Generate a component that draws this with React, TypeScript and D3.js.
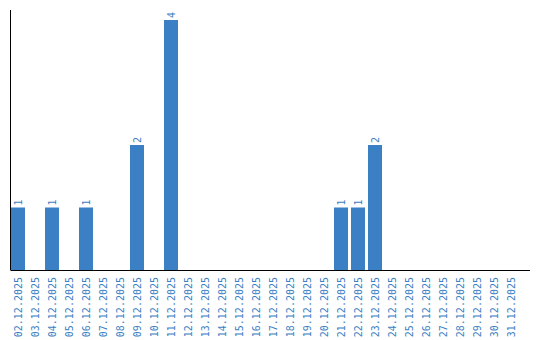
import React from "react";
import * as d3 from "d3";

const dates = [
  "02.12.2025","03.12.2025","04.12.2025","05.12.2025","06.12.2025","07.12.2025",
  "08.12.2025","09.12.2025","10.12.2025","11.12.2025","12.12.2025","13.12.2025",
  "14.12.2025","15.12.2025","16.12.2025","17.12.2025","18.12.2025","19.12.2025",
  "20.12.2025","21.12.2025","22.12.2025","23.12.2025","24.12.2025","25.12.2025",
  "26.12.2025","27.12.2025","28.12.2025","29.12.2025","30.12.2025","31.12.2025",
];
const counts = [1,0,1,0,1,0,0,2,0,4,0,0,0,0,0,0,0,0,0,1,1,2,0,0,0,0,0,0,0,0];

const W = 540, H = 340;
const left = 10.5, right = 530, top = 10, bottom = 270;
const color = "#3b7fc4";
const font = "'DejaVu Sans Mono', monospace";

export default function App() {
  const x = d3.scaleBand<string>().domain(dates).range([11, 11 + 17 * dates.length - 3]).paddingInner(3 / 17).paddingOuter(0).align(0);
  const maxV = d3.max(counts) ?? 1;
  const y = d3.scaleLinear().domain([0, maxV * 1.04]).range([bottom, top]);
  return (
    <svg width={W} height={H} style={{ position: "absolute", left: 0, top: 0 }}>
      <rect width={W} height={H} fill="#fff" />
      {dates.map((d, i) =>
        counts[i] > 0 ? (
          <g key={d}>
            <rect x={x(d)} y={y(counts[i])} width={x.bandwidth()} height={bottom - y(counts[i])} fill={color} />
            <text
              transform={`translate(${(x(d) ?? 0) + x.bandwidth() / 2 + 3.5},${y(counts[i]) - 2}) rotate(-90)`}
              fontFamily={font} fontSize={10} fill={color}
            >{counts[i]}</text>
          </g>
        ) : null
      )}
      <line x1={left} x2={left} y1={top} y2={bottom} stroke="#000" strokeWidth={1} />
      <line x1={left} x2={right} y1={bottom + 0.5} y2={bottom + 0.5} stroke="#000" strokeWidth={1} />
      {dates.map((d) => (
        <text key={d}
          transform={`translate(${(x(d) ?? 0) + x.bandwidth() / 2 + 3.5},277) rotate(-90)`}
          textAnchor="end" fontFamily={font} fontSize={10} fill={color}
        >{d}</text>
      ))}
    </svg>
  );
}
